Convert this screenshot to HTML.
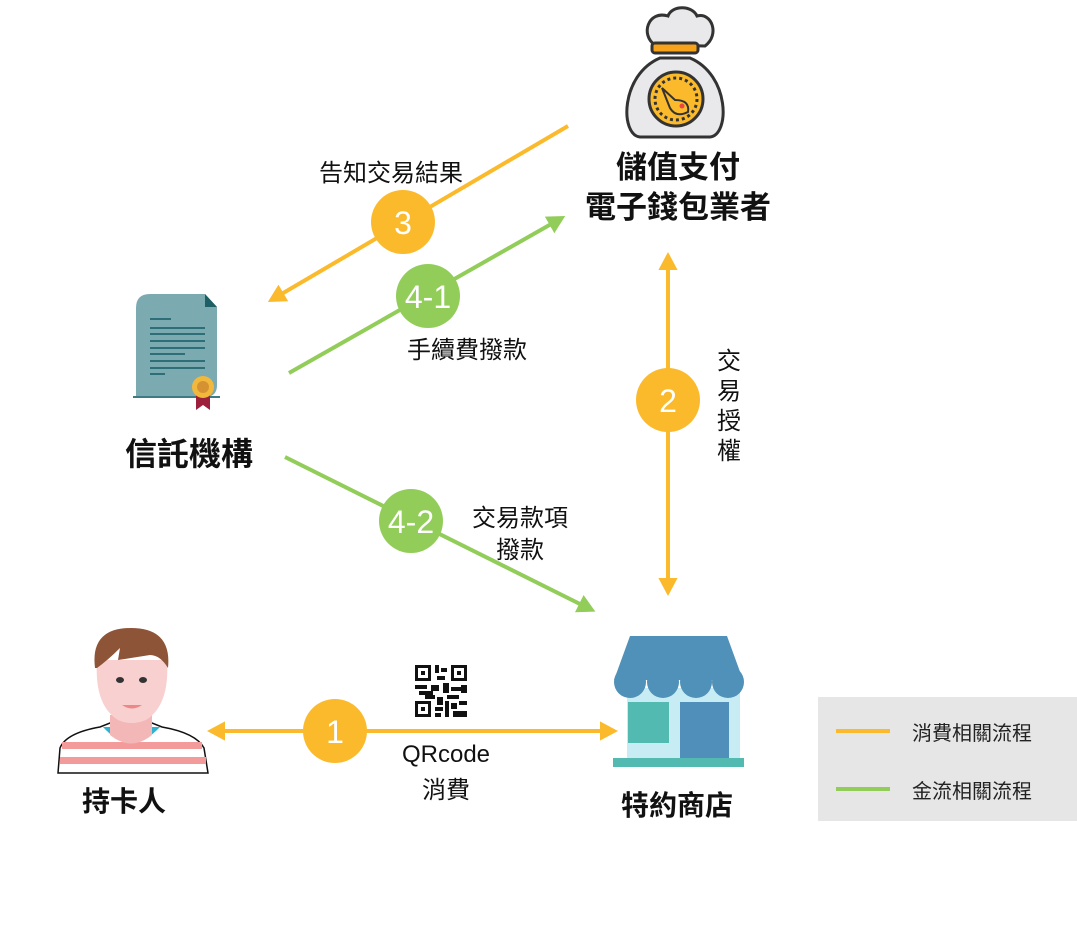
<!DOCTYPE html>
<html><head><meta charset="utf-8"><style>
html,body{margin:0;padding:0;background:#fff}
svg{display:block}
text{font-family:"Liberation Sans","Noto Sans CJK TC",sans-serif}
</style></head><body>
<svg width="1077" height="943" viewBox="0 0 1077 943" xmlns="http://www.w3.org/2000/svg">
<defs>
<marker id="ao" markerWidth="6" markerHeight="6" refX="3" refY="3" orient="auto-start-reverse" markerUnits="strokeWidth"><path d="M0,0.6 L4.5,3 L0,5.4 Z" fill="#FBBA2B"/></marker>
<marker id="ag" markerWidth="6" markerHeight="6" refX="3" refY="3" orient="auto-start-reverse" markerUnits="strokeWidth"><path d="M0,0.6 L4.5,3 L0,5.4 Z" fill="#92CD5A"/></marker>
</defs>

<!-- money bag -->
<g stroke="#333" stroke-width="3">
<path d="M655,45 C640,35 648,10 668,16 C672,5 692,5 697,16 C712,12 720,35 705,46 Z" fill="#e9e9ec"/>
<path d="M660,58 C620,75 620,135 640,137 L710,137 C730,135 730,75 690,58 Z" fill="#e9e9ec"/>
<rect x="652" y="43" width="46" height="10" rx="3" fill="#F7A21B"/>
<circle cx="676" cy="99" r="27" fill="#FBBA2B"/>
</g>
<circle cx="676" cy="99" r="21" fill="none" stroke="#333" stroke-width="3" stroke-dasharray="3 3"/>
<path d="M662,88 L675,100 Q690,100 688,112 Q676,118 670,108 Z" fill="#FBBA2B" stroke="#333" stroke-width="2"/>
<circle cx="682" cy="106" r="2.5" fill="#e44"/>

<!-- certificate -->
<path d="M150,294 L205,294 L217,307 L217,385 Q217,397 205,397 L136,397 L136,308 Q136,294 150,294 Z" fill="#7BAAB1"/>
<path d="M205,294 L217,307 L205,307 Z" fill="#1E5F66"/>
<line x1="133" y1="397" x2="220" y2="397" stroke="#3D7C85" stroke-width="2"/>
<g stroke="#2E6F77" stroke-width="2">
<line x1="150" y1="319" x2="171" y2="319"/><line x1="150" y1="328" x2="205" y2="328"/>
<line x1="150" y1="334" x2="205" y2="334"/><line x1="150" y1="341" x2="205" y2="341"/>
<line x1="150" y1="348" x2="205" y2="348"/><line x1="150" y1="354" x2="185" y2="354"/>
<line x1="150" y1="361" x2="205" y2="361"/><line x1="150" y1="368" x2="205" y2="368"/>
<line x1="150" y1="374" x2="165" y2="374"/>
</g>
<path d="M196,392 L196,410 L203,405 L210,410 L210,392 Z" fill="#9C1F3C"/>
<circle cx="203" cy="387" r="11" fill="#F2B83C"/><circle cx="203" cy="387" r="6" fill="#D59232"/>

<!-- person -->
<path d="M58,773 L60,748 Q66,733 100,727 L110,723 L152,723 L162,727 Q196,733 204,748 L208,773 Z" fill="#fff" stroke="#111" stroke-width="1.5"/>
<g fill="#F39A9A"><rect x="62" y="742" width="140" height="7"/><rect x="60" y="757" width="146" height="7"/></g>
<path d="M103,727 Q131,758 160,727 Z" fill="#2EB3D1"/>
<path d="M110,715 L110,735 Q131,752 152,735 L152,715 Z" fill="#F3B7B7"/>
<path d="M97,660 Q94,705 118,720 Q131,726 146,720 Q170,705 167,660 Z" fill="#F9D0D0"/>
<path d="M95,668 Q90,628 131,628 Q172,628 168,668 Q160,655 150,655 L118,660 L120,648 Q108,660 97,668 Z" fill="#8E5437"/>
<ellipse cx="120" cy="680" rx="4" ry="3" fill="#333"/><ellipse cx="143" cy="680" rx="4" ry="3" fill="#333"/>
<path d="M122,705 Q132,712 142,705 Z" fill="#EF8787"/>

<!-- store -->
<rect x="627" y="688" width="113" height="72" fill="#C7ECF3"/>
<path d="M630,636 L727,636 L743,680 L614,680 Z" fill="#4F91B8"/>
<g fill="#4F91B8"><circle cx="630" cy="682" r="16"/><circle cx="663" cy="682" r="16"/><circle cx="696" cy="682" r="16"/><circle cx="728" cy="682" r="16"/></g>
<rect x="628" y="702" width="41" height="41" fill="#52BAB0"/>
<rect x="680" y="702" width="49" height="58" fill="#4F8FBA"/>
<rect x="613" y="758" width="131" height="9" fill="#52BAB0"/>

<!-- QR -->
<g fill="#111">
<rect x="415" y="665" width="16" height="16"/><rect x="451" y="665" width="16" height="16"/><rect x="415" y="701" width="16" height="16"/>
</g>
<g fill="#fff">
<rect x="418" y="668" width="10" height="10"/><rect x="454" y="668" width="10" height="10"/><rect x="418" y="704" width="10" height="10"/>
</g>
<g fill="#111">
<rect x="421" y="671" width="4" height="4"/><rect x="457" y="671" width="4" height="4"/><rect x="421" y="707" width="4" height="4"/>
<rect x="435" y="665" width="4" height="8"/><rect x="441" y="668" width="6" height="4"/><rect x="437" y="676" width="8" height="4"/>
<rect x="415" y="685" width="12" height="4"/><rect x="419" y="691" width="14" height="4"/><rect x="431" y="685" width="8" height="6"/>
<rect x="443" y="683" width="6" height="10"/><rect x="451" y="687" width="10" height="4"/><rect x="461" y="685" width="6" height="8"/>
<rect x="425" y="695" width="10" height="4"/><rect x="437" y="697" width="6" height="8"/><rect x="447" y="695" width="12" height="4"/>
<rect x="435" y="707" width="8" height="4"/><rect x="445" y="701" width="4" height="16"/><rect x="451" y="703" width="6" height="6"/>
<rect x="459" y="701" width="8" height="4"/><rect x="453" y="711" width="14" height="6"/><rect x="435" y="713" width="6" height="4"/>
</g>

<!-- connectors -->
<line x1="568" y1="126" x2="273" y2="299" stroke="#FBBA2B" stroke-width="4" marker-end="url(#ao)"/>
<line x1="289" y1="373" x2="560" y2="219" stroke="#92CD5A" stroke-width="4" marker-end="url(#ag)"/>
<line x1="668" y1="258" x2="668" y2="590" stroke="#FBBA2B" stroke-width="4" marker-start="url(#ao)" marker-end="url(#ao)"/>
<line x1="285" y1="457" x2="590" y2="609" stroke="#92CD5A" stroke-width="4" marker-end="url(#ag)"/>
<line x1="213" y1="731" x2="612" y2="731" stroke="#FBBA2B" stroke-width="4" marker-start="url(#ao)" marker-end="url(#ao)"/>

<!-- numbered circles -->
<g font-size="32" fill="#fff" text-anchor="middle">
<circle cx="403" cy="222" r="32" fill="#FBBA2B"/><text x="403" y="234">3</text>
<circle cx="428" cy="296" r="32" fill="#92CD5A"/><text x="428" y="308">4-1</text>
<circle cx="668" cy="400" r="32" fill="#FBBA2B"/><text x="668" y="412">2</text>
<circle cx="411" cy="521" r="32" fill="#92CD5A"/><text x="411" y="533">4-2</text>
<circle cx="335" cy="731" r="32" fill="#FBBA2B"/><text x="335" y="743">1</text>
</g>

<!-- labels -->
<g fill="#111" text-anchor="middle">
<text x="678" y="178" font-size="31" font-weight="bold">儲值支付</text>
<text x="678" y="218" font-size="31" font-weight="bold">電子錢包業者</text>
<text x="189" y="465" font-size="32" font-weight="bold">信託機構</text>
<text x="124" y="811" font-size="28" font-weight="bold">持卡人</text>
<text x="677" y="815" font-size="28" font-weight="bold">特約商店</text>
<text x="391" y="181" font-size="24">告知交易結果</text>
<text x="467" y="358" font-size="24">手續費撥款</text>
<text x="520" y="526" font-size="24">交易款項</text>
<text x="520" y="558" font-size="24">撥款</text>
<text x="446" y="762" font-size="24">QRcode</text>
<text x="446" y="798" font-size="24">消費</text>
<text x="729" y="369" font-size="24">交</text>
<text x="729" y="399" font-size="24">易</text>
<text x="729" y="429" font-size="24">授</text>
<text x="729" y="459" font-size="24">權</text>
</g>

<!-- legend -->
<rect x="818" y="697" width="259" height="124" fill="#E6E6E6"/>
<line x1="836" y1="731" x2="890" y2="731" stroke="#FBBA2B" stroke-width="4"/>
<line x1="836" y1="789" x2="890" y2="789" stroke="#92CD5A" stroke-width="4"/>
<text x="912" y="740" font-size="20" fill="#222">消費相關流程</text>
<text x="912" y="798" font-size="20" fill="#222">金流相關流程</text>
</svg>
</body></html>
